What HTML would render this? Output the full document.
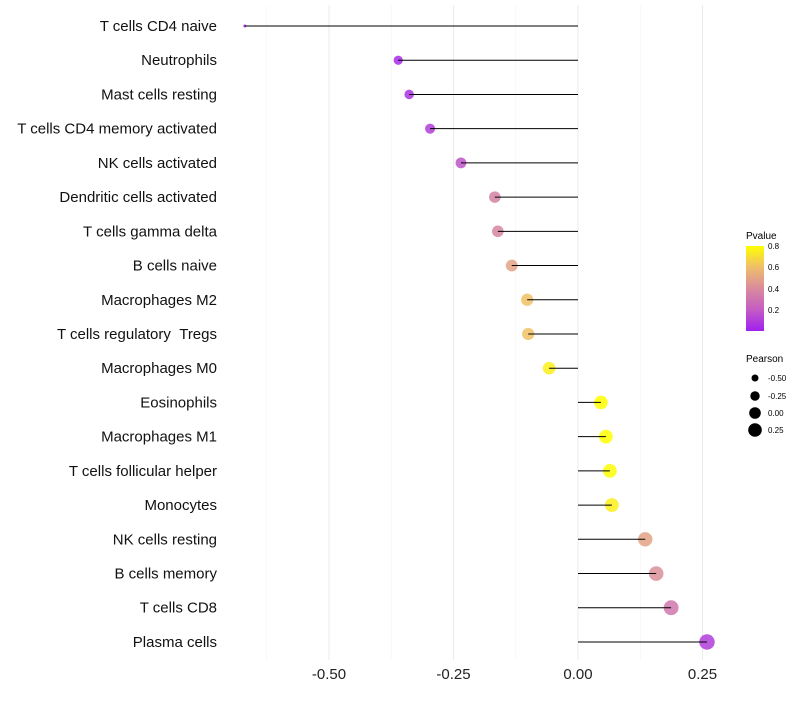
<!DOCTYPE html>
<html><head><meta charset="utf-8"><style>
body{margin:0;background:#fff;font-family:"Liberation Sans",sans-serif}
</style></head><body>
<svg id="chart" width="800" height="700" xmlns="http://www.w3.org/2000/svg">
<defs><linearGradient id="pg" x1="0" y1="1" x2="0" y2="0">
<stop offset="0" stop-color="#a020f0"/><stop offset="0.25" stop-color="#c45cc4"/><stop offset="0.5" stop-color="#d98b9c"/><stop offset="0.75" stop-color="#efbd6c"/><stop offset="1" stop-color="#ffff00"/></linearGradient></defs>
<g id="grid"></g><g id="dots"></g><g id="stems"></g><g id="labels"></g>
<g>
<text x="746" y="239" font-size="10">Pvalue</text>
<rect x="746" y="246" width="18" height="85" fill="url(#pg)"/>
<text x="768" y="249" font-size="8">0.8</text>
<text x="768" y="270" font-size="8">0.6</text>
<text x="768" y="292" font-size="8">0.4</text>
<text x="768" y="313" font-size="8">0.2</text>
</g>
<g>
<text x="746" y="362" font-size="10">Pearson</text>
<circle cx="755" cy="378" r="3.5"/><text x="768" y="381" font-size="8">-0.50</text>
<circle cx="755" cy="396" r="4.7"/><text x="768" y="399" font-size="8">-0.25</text>
<circle cx="755" cy="413" r="5.8"/><text x="768" y="416" font-size="8">0.00</text>
<circle cx="755" cy="430" r="6.8"/><text x="768" y="433" font-size="8">0.25</text>
</g>
</svg>
<script>
const cells=["T cells CD4 naive","Neutrophils","Mast cells resting","T cells CD4 memory activated","NK cells activated","Dendritic cells activated","T cells gamma delta","B cells naive","Macrophages M2","T cells regulatory\u00a0\u00a0Tregs","Macrophages M0","Eosinophils","Macrophages M1","T cells follicular helper","Monocytes","NK cells resting","B cells memory","T cells CD8","Plasma cells"];
const pearson=[-0.669,-0.361,-0.339,-0.297,-0.235,-0.167,-0.161,-0.133,-0.102,-0.100,-0.058,0.046,0.056,0.064,0.068,0.135,0.157,0.187,0.259];
const pvalue=[0.02,0.04,0.06,0.10,0.18,0.36,0.38,0.50,0.62,0.62,0.76,0.82,0.81,0.80,0.76,0.50,0.42,0.32,0.10];
const ticks=[-0.5,-0.25,0,0.25];
const tickLabels=["-0.50","-0.25","0.00","0.25"];
const minor=[-0.625,-0.375,-0.125,0.125];
const NS="http://www.w3.org/2000/svg";
const x=v=>578+v*498;
const y=i=>26+i*34.22;
function mk(t,a,p){const e=document.createElementNS(NS,t);for(const k in a)e.setAttribute(k,a[k]);p.appendChild(e);return e;}
const stops=[[0,[160,32,240]],[0.25,[196,92,196]],[0.5,[217,139,156]],[0.75,[239,189,108]],[1,[255,255,0]]];
function col(p){let t=Math.max(0,Math.min(1,p/0.81));for(let i=1;i<stops.length;i++){if(t<=stops[i][0]){const a=stops[i-1],b=stops[i],f=(t-a[0])/(b[0]-a[0]);return "rgb("+a[1].map((c,j)=>Math.round(c+(b[1][j]-c)*f)).join(",")+")";}}return "rgb(255,255,0)";}
const r=v=>Math.sqrt(Math.max(1,2.25+(v+0.669)*62));
const g=document.getElementById('grid'),dg=document.getElementById('dots'),sg=document.getElementById('stems'),l=document.getElementById('labels');
minor.forEach(v=>{const e=mk('line',{x1:x(v),x2:x(v),y1:5,y2:660,stroke:'#f4f4f4','stroke-width':0.6},g);

});
ticks.forEach((v,i)=>{const e=mk('line',{x1:x(v),x2:x(v),y1:5,y2:660,stroke:'#ebebeb','stroke-width':1},g);


const t=mk('text',{x:x(v),y:679,'font-size':15,'text-anchor':'middle',fill:'#222'},l);t.textContent=tickLabels[i];

});
cells.forEach((c,i)=>{const t=mk('text',{x:217,y:y(i)+5,'font-size':15,'text-anchor':'end',fill:'#111'},l);t.textContent=c;


const d=mk('circle',{cx:x(pearson[i]),cy:y(i),r:r(pearson[i]),fill:col(pvalue[i]),'fill-opacity':0.85},dg);


const ln=mk('line',{x1:x(0),x2:x(pearson[i]),y1:y(i),y2:y(i),stroke:'#000','stroke-width':1},sg);

});
</script>
</body></html>
